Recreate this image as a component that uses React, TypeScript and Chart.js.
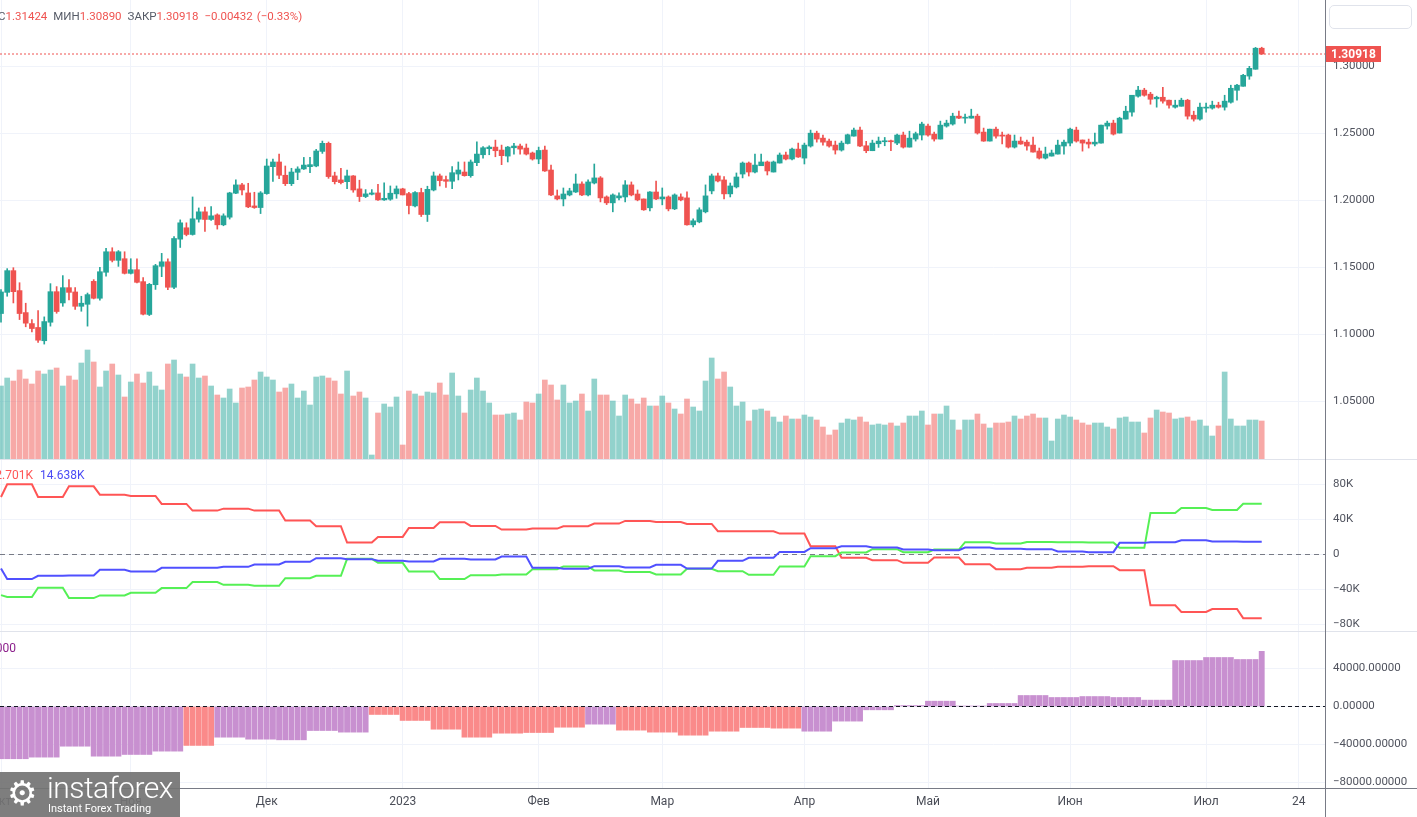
import React, { useEffect, useRef } from 'react';
import { Chart, registerables } from 'chart.js';

Chart.register(...registerables);

// ---------------- data ----------------
const firstSession = '2022-10-03';
const lastSession = '2023-07-14';

const opens = [
  1.1155, 1.1313, 1.1475, 1.1326, 1.1162, 1.1080, 1.1051, 1.0952, 1.1090, 1.1318,
  1.1234, 1.1348, 1.1316, 1.1209, 1.1224, 1.1395, 1.1269, 1.1463, 1.1616, 1.1552,
  1.1564, 1.1455, 1.1482, 1.1393, 1.1148, 1.1370, 1.1507, 1.1541, 1.1351, 1.1710,
  1.1795, 1.1745, 1.1859, 1.1914, 1.1857, 1.1891, 1.1817, 1.1874, 1.2053, 1.2115,
  1.2055, 1.1958, 1.1946, 1.2050, 1.2251, 1.2286, 1.2187, 1.2124, 1.2209, 1.2234,
  1.2251, 1.2256, 1.2365, 1.2425, 1.2182, 1.2152, 1.2139, 1.2182, 1.2085, 1.2028,
  1.2045, 1.2055, 1.2003, 1.2008, 1.2048, 1.2085, 1.2050, 1.1958, 1.2058, 1.1894,
  1.2077, 1.2182, 1.2154, 1.2142, 1.2196, 1.2211, 1.2184, 1.2281, 1.2340, 1.2385,
  1.2397, 1.2375, 1.2330, 1.2392, 1.2405, 1.2390, 1.2353, 1.2308, 1.2375, 1.2226,
  1.2033, 1.2010, 1.2040, 1.2062, 1.2122, 1.2040, 1.2129, 1.2167, 1.2025, 1.1981,
  1.2018, 1.2025, 1.2115, 1.2047, 1.2010, 1.1944, 1.2062, 1.2010, 1.2025, 1.1936,
  1.2025, 1.2018, 1.1817, 1.1839, 1.1914, 1.2070, 1.2182, 1.2152, 1.2048, 1.2100,
  1.2196, 1.2278, 1.2211, 1.2258, 1.2286, 1.2211, 1.2278, 1.2338, 1.2308, 1.2382,
  1.2315, 1.2405, 1.2501, 1.2464, 1.2442, 1.2412, 1.2375, 1.2424, 1.2479, 1.2524,
  1.2407, 1.2370, 1.2422, 1.2437, 1.2444, 1.2427, 1.2487, 1.2397, 1.2457, 1.2487,
  1.2554, 1.2494, 1.2457, 1.2554, 1.2569, 1.2628, 1.2613, 1.2613, 1.2628, 1.2509,
  1.2442, 1.2531, 1.2487, 1.2487, 1.2397, 1.2442, 1.2434, 1.2412, 1.2368, 1.2315,
  1.2330, 1.2345, 1.2405, 1.2427, 1.2524, 1.2450, 1.2434, 1.2420, 1.2427, 1.2554,
  1.2576, 1.2502, 1.2606, 1.2658, 1.2777, 1.2822, 1.2792, 1.2757, 1.2769, 1.2747,
  1.2695, 1.2702, 1.2747, 1.2635, 1.2606, 1.2688, 1.2688, 1.2710, 1.2695, 1.2732,
  1.2821, 1.2851, 1.2927, 1.2978, 1.3135,
];

const highs = [
  1.1333, 1.1490, 1.1497, 1.1385, 1.1232, 1.1110, 1.1177, 1.1130, 1.1378, 1.1356,
  1.1438, 1.1408, 1.1348, 1.1284, 1.1308, 1.1408, 1.1500, 1.1641, 1.1646, 1.1625,
  1.1616, 1.1564, 1.1564, 1.1423, 1.1380, 1.1522, 1.1604, 1.1564, 1.1730, 1.1854,
  1.1832, 1.2025, 1.1943, 1.1950, 1.1954, 1.1899, 1.1899, 1.2060, 1.2152, 1.2127,
  1.2127, 1.2060, 1.2065, 1.2308, 1.2308, 1.2345, 1.2256, 1.2239, 1.2250, 1.2320,
  1.2320, 1.2380, 1.2442, 1.2435, 1.2210, 1.2239, 1.2226, 1.2185, 1.2150, 1.2080,
  1.2080, 1.2120, 1.2130, 1.2107, 1.2107, 1.2090, 1.2060, 1.2065, 1.2090, 1.2105,
  1.2211, 1.2196, 1.2180, 1.2251, 1.2286, 1.2286, 1.2301, 1.2437, 1.2400, 1.2407,
  1.2449, 1.2412, 1.2402, 1.2425, 1.2420, 1.2420, 1.2360, 1.2397, 1.2405, 1.2263,
  1.2077, 1.2092, 1.2090, 1.2196, 1.2137, 1.2152, 1.2271, 1.2177, 1.2033, 1.2048,
  1.2055, 1.2147, 1.2137, 1.2077, 1.2010, 1.2065, 1.2144, 1.2092, 1.2033, 1.2048,
  1.2048, 1.2063, 1.1862, 1.1944, 1.2115, 1.2196, 1.2204, 1.2177, 1.2129, 1.2204,
  1.2286, 1.2286, 1.2345, 1.2345, 1.2293, 1.2293, 1.2353, 1.2360, 1.2390, 1.2427,
  1.2427, 1.2524, 1.2516, 1.2486, 1.2457, 1.2442, 1.2442, 1.2494, 1.2539, 1.2546,
  1.2440, 1.2449, 1.2472, 1.2469, 1.2450, 1.2494, 1.2509, 1.2516, 1.2509, 1.2583,
  1.2569, 1.2509, 1.2591, 1.2598, 1.2650, 1.2665, 1.2643, 1.2680, 1.2643, 1.2539,
  1.2531, 1.2546, 1.2509, 1.2494, 1.2487, 1.2472, 1.2449, 1.2472, 1.2390, 1.2397,
  1.2375, 1.2449, 1.2449, 1.2539, 1.2546, 1.2450, 1.2457, 1.2501, 1.2561, 1.2591,
  1.2598, 1.2620, 1.2702, 1.2784, 1.2851, 1.2836, 1.2806, 1.2777, 1.2844, 1.2747,
  1.2747, 1.2762, 1.2754, 1.2665, 1.2725, 1.2725, 1.2740, 1.2732, 1.2784, 1.2859,
  1.2866, 1.2940, 1.3000, 1.3141, 1.31424,
];

const lows = [
  1.1090, 1.1284, 1.1234, 1.1110, 1.1056, 1.1018, 1.0940, 1.0927, 1.1061, 1.1157,
  1.1209, 1.1256, 1.1185, 1.1172, 1.1061, 1.1264, 1.1254, 1.1433, 1.1540, 1.1507,
  1.1450, 1.1450, 1.1383, 1.1145, 1.1140, 1.1335, 1.1430, 1.1333, 1.1340, 1.1648,
  1.1735, 1.1740, 1.1837, 1.1767, 1.1850, 1.1785, 1.1810, 1.1860, 1.2050, 1.2040,
  1.1945, 1.1940, 1.1901, 1.2045, 1.2140, 1.2162, 1.2110, 1.2110, 1.2154, 1.2230,
  1.2206, 1.2250, 1.2350, 1.2164, 1.2122, 1.2122, 1.2087, 1.2060, 1.1991, 1.2020,
  1.2040, 1.2000, 1.2000, 1.2000, 1.2015, 1.2040, 1.1899, 1.1950, 1.1879, 1.1842,
  1.2070, 1.2107, 1.2097, 1.2087, 1.2152, 1.2180, 1.2172, 1.2258, 1.2315, 1.2340,
  1.2325, 1.2266, 1.2286, 1.2345, 1.2345, 1.2338, 1.2300, 1.2273, 1.2215, 1.2035,
  1.2003, 1.1958, 1.2033, 1.2058, 1.2035, 1.2033, 1.2122, 1.1988, 1.1968, 1.1914,
  1.2003, 1.1988, 1.2033, 1.1996, 1.1925, 1.1921, 1.2005, 1.1966, 1.1921, 1.1930,
  1.1996, 1.1815, 1.1802, 1.1832, 1.1906, 1.2048, 1.2137, 1.2010, 1.2025, 1.2092,
  1.2167, 1.2181, 1.2204, 1.2258, 1.2189, 1.2211, 1.2278, 1.2301, 1.2301, 1.2320,
  1.2271, 1.2397, 1.2434, 1.2412, 1.2397, 1.2345, 1.2367, 1.2420, 1.2479, 1.2400,
  1.2355, 1.2370, 1.2395, 1.2407, 1.2370, 1.2415, 1.2390, 1.2397, 1.2442, 1.2450,
  1.2479, 1.2442, 1.2457, 1.2546, 1.2561, 1.2610, 1.2576, 1.2613, 1.2494, 1.2440,
  1.2442, 1.2464, 1.2420, 1.2390, 1.2390, 1.2418, 1.2375, 1.2360, 1.2308, 1.2308,
  1.2330, 1.2345, 1.2345, 1.2405, 1.2434, 1.2367, 1.2390, 1.2405, 1.2427, 1.2531,
  1.2487, 1.2502, 1.2606, 1.2628, 1.2769, 1.2777, 1.2717, 1.2695, 1.2725, 1.2688,
  1.2688, 1.2702, 1.2606, 1.2591, 1.2598, 1.2658, 1.2680, 1.2688, 1.2673, 1.2725,
  1.2747, 1.2851, 1.2903, 1.2978, 1.30890,
];

const closes = [
  1.1316, 1.1475, 1.1318, 1.1155, 1.1083, 1.1043, 1.0956, 1.1095, 1.1318, 1.1170,
  1.1348, 1.1313, 1.1209, 1.1232, 1.1296, 1.1269, 1.1467, 1.1616, 1.1552, 1.1616,
  1.1455, 1.1482, 1.1388, 1.1150, 1.1373, 1.1512, 1.1541, 1.1351, 1.1715, 1.1832,
  1.1745, 1.1862, 1.1914, 1.1857, 1.1884, 1.1817, 1.1884, 1.2055, 1.2115, 1.2077,
  1.1951, 1.1946, 1.2055, 1.2256, 1.2286, 1.2187, 1.2124, 1.2211, 1.2234, 1.2263,
  1.2266, 1.2368, 1.2425, 1.2177, 1.2139, 1.2132, 1.2182, 1.2077, 1.2028, 1.2048,
  1.2055, 1.2003, 1.2015, 1.2053, 1.2085, 1.2040, 1.1961, 1.2058, 1.1894, 1.2082,
  1.2182, 1.2147, 1.2142, 1.2206, 1.2226, 1.2184, 1.2286, 1.2345, 1.2392, 1.2397,
  1.2370, 1.2333, 1.2397, 1.2405, 1.2382, 1.2345, 1.2308, 1.2372, 1.2219, 1.2040,
  1.2010, 1.2047, 1.2070, 1.2122, 1.2040, 1.2137, 1.2167, 1.2018, 1.1981, 1.2040,
  1.2033, 1.2115, 1.2040, 1.2003, 1.1929, 1.2062, 1.2010, 1.2025, 1.1936, 1.2040,
  1.2003, 1.1817, 1.1847, 1.1929, 1.2033, 1.2182, 1.2144, 1.2048, 1.2107, 1.2174,
  1.2278, 1.2211, 1.2263, 1.2286, 1.2219, 1.2286, 1.2338, 1.2308, 1.2382, 1.2323,
  1.2412, 1.2501, 1.2457, 1.2434, 1.2405, 1.2375, 1.2427, 1.2489, 1.2524, 1.2405,
  1.2370, 1.2427, 1.2442, 1.2444, 1.2437, 1.2487, 1.2397, 1.2464, 1.2497, 1.2569,
  1.2487, 1.2457, 1.2561, 1.2576, 1.2628, 1.2613, 1.2620, 1.2628, 1.2502, 1.2442,
  1.2531, 1.2479, 1.2479, 1.2397, 1.2442, 1.2420, 1.2405, 1.2360, 1.2315, 1.2345,
  1.2353, 1.2412, 1.2434, 1.2531, 1.2442, 1.2427, 1.2420, 1.2434, 1.2561, 1.2576,
  1.2494, 1.2613, 1.2665, 1.2784, 1.2822, 1.2784, 1.2754, 1.2769, 1.2740, 1.2710,
  1.2710, 1.2747, 1.2628, 1.2606, 1.2695, 1.2695, 1.2710, 1.2695, 1.2740, 1.2836,
  1.2859, 1.2933, 1.2985, 1.3135, 1.30918,
];

// tick volume, thousands
const volumesK = [
  73, 81, 78, 89, 80, 75, 88, 85, 89, 91,
  73, 83, 79, 96, 109, 97, 72, 88, 95, 84,
  62, 77, 85, 76, 87, 73, 69, 95, 99, 85,
  82, 95, 81, 83, 73, 64, 61, 70, 56, 71,
  72, 79, 87, 82, 79, 67, 71, 75, 61, 68,
  54, 82, 83, 81, 78, 65, 88, 63, 67, 61,
  4, 46, 55, 52, 62, 14, 68, 65, 63, 67,
  66, 76, 64, 86, 63, 46, 69, 81, 68, 56,
  44, 44, 45, 46, 39, 57, 56, 65, 79, 74,
  59, 74, 56, 58, 65, 48, 80, 64, 64, 58,
  43, 64, 60, 55, 61, 53, 53, 63, 56, 50,
  45, 60, 52, 48, 78, 101, 80, 87, 72, 53,
  57, 38, 49, 50, 48, 42, 37, 43, 40, 40,
  44, 42, 39, 32, 24, 29, 36, 40, 39, 42,
  37, 34, 35, 34, 36, 33, 36, 43, 43, 48,
  34, 45, 45, 53, 39, 29, 39, 39, 45, 35,
  31, 36, 36, 37, 43, 40, 43, 45, 41, 41,
  18, 40, 44, 42, 39, 36, 34, 36, 36, 32,
  30, 41, 42, 37, 37, 26, 41, 49, 47, 46,
  40, 41, 42, 38, 39, 33, 23, 33, 87, 40,
  33, 33, 39, 39, 38,
];

// weekly COT net positions (weeks run Tuesday..Monday, first week ends 2022-10-03)
const cotNonCommercial = [
  -46400, -48600, -38000, -49800, -46700, -43700, -38400, -31500, -34600, -35700,
  -27000, -24300, -4900, -9500, -19400, -28100, -23600, -22800, -16700, -13700,
  -18200, -20100, -22800, -16300, -19000, -23200, -13700, -1900, 2300, 6100,
  2700, 5700, 14100, 12500, 14400, 14100, 13700, 7600, 47500, 53200,
  50900, 58063,
];
const cotCommercial = [
  65700, 80200, 65700, 77900, 68400, 66900, 57800, 50200, 52400, 50200,
  38800, 32300, 13700, 20100, 30400, 36900, 32700, 28500, 29600, 32300,
  35300, 38400, 37200, 35000, 26600, 26600, 23900, 9500, -3800, -6500,
  -9500, -3400, -11000, -16700, -15200, -14100, -13300, -17900, -58100, -65700,
  -62300, -72701,
];
const cotNonReportable = [
  -16000, -28100, -24300, -23900, -17500, -19400, -15200, -15200, -14100, -11400,
  -8400, -4200, -5300, -7200, -8000, -4900, -5700, -2300, -15200, -16300,
  -13300, -14800, -11800, -16000, -7200, -3800, 3000, 7200, 9500, 8000,
  5700, 4900, 8000, 6500, 6100, 3400, 2700, 13300, 14100, 16300,
  14800, 14638,
];

// net-position histogram: Monday..Friday weeks from 2022-10-03, last entry = 2023-07-14 only
const netPosition = [
  -55000, -53300, -41800, -52300, -50500, -47000, -41000, -32300, -34400, -35100,
  -25300, -27000, -8400, -14700, -23900, -32300, -28100, -27400, -21800, -18600,
  -24900, -27000, -30200, -26000, -22100, -22800, -26000, -15400, -3500, 1000,
  5600, 500, 3200, 11600, 9500, 10500, 9500, 6700, 48400, 51600,
  49500, 58063,
];
const netTone = [
  'p', 'p', 'p', 'p', 'p', 'p', 's', 'p', 'p', 'p',
  'p', 'p', 's', 's', 's', 's', 's', 's', 's', 'p',
  's', 's', 's', 's', 's', 's', 'p', 'p', 'p', 'p',
  'p', 'p', 'p', 'p', 'p', 'p', 'p', 'p', 'p', 'p',
  'p', 'p',
];

const timeTicks = [
  { date: '2022-10-03', label: 'Окт' },
  { date: '2022-11-01', label: 'Ноя' },
  { date: '2022-12-01', label: 'Дек' },
  { date: '2023-01-02', label: '2023' },
  { date: '2023-02-01', label: 'Фев' },
  { date: '2023-03-01', label: 'Мар' },
  { date: '2023-04-03', label: 'Апр' },
  { date: '2023-05-01', label: 'Май' },
  { date: '2023-06-01', label: 'Июн' },
  { date: '2023-07-03', label: 'Июл' },
  { date: '2023-07-24', label: '24' },
];
const priceTicks = [1.05, 1.1, 1.15, 1.2, 1.25, 1.3];
const cotTicks = [80000, 40000, 0, -40000, -80000];
const netTicks = [40000, 0, -40000, -80000];

const sessionSummary = { high: 1.31424, low: 1.3089, close: 1.30918, change: -0.00432, changePct: -0.33 };

// ---------------- layout / style ----------------
const FONT = 'Roboto, "Noto Sans", "DejaVu Sans", sans-serif';
const W = 1417;
const AXIS_W = 92;
const PLOT_W = W - AXIS_W;
const SLOT_PX = 6.18;
const X_MIN = -1 / SLOT_PX;
const X_MAX = X_MIN + PLOT_W / SLOT_PX;
const GRID = '#f0f3fa';
const TICK = '#50535e';
const UP = '#26a69a';
const DOWN = '#ef5350';

Chart.defaults.font.family = FONT;

function sessionIndex(iso: string): number {
  const start = Date.parse(firstSession + 'T00:00:00Z');
  const end = Date.parse(iso + 'T00:00:00Z');
  let n = 0;
  for (let t = start; t < end; t += 86400000) {
    const wd = new Date(t).getUTCDay();
    if (wd !== 0 && wd !== 6) n++;
  }
  return n;
}

const lastIdx = sessionIndex(lastSession);
const tickIdx = timeTicks.map((t) => ({ idx: sessionIndex(t.date), label: t.label }));
const labelAt = new Map(tickIdx.map((t) => [t.idx, t.label]));
const cotWeekOf = (d: number) => Math.floor((d + 4) / 5);
const netPeriodOf = (d: number) =>
  d === lastIdx ? netPosition.length - 1 : Math.min(Math.floor(d / 5), netPosition.length - 2);

const minus = (v: number) => (v < 0 ? '\u2212' : '');

function xAxis(showLabels: boolean) {
  return {
    type: 'linear',
    min: X_MIN,
    max: X_MAX,
    bounds: 'data',
    offset: false,
    afterBuildTicks: (s: any) => {
      s.ticks = tickIdx.map((t) => ({ value: t.idx }));
    },
    afterFit: (s: any) => {
      s.height = showLabels ? 29 : 0;
      s.paddingLeft = 0;
      s.paddingRight = 0;
    },
    grid: { color: GRID, drawTicks: false, offset: false },
    border: { display: false },
    ticks: {
      display: showLabels,
      autoSkip: false,
      maxRotation: 0,
      color: '#4a4d57',
      font: { size: 12 },
      padding: 7,
      callback: (v: number) => labelAt.get(v) ?? '',
    },
  };
}

function yAxis(min: number, max: number, ticks: number[], fmt: (v: number) => string) {
  return {
    type: 'linear',
    position: 'right',
    min,
    max,
    bounds: 'data',
    afterBuildTicks: (s: any) => {
      s.ticks = ticks.map((v) => ({ value: v }));
    },
    afterFit: (s: any) => {
      s.width = AXIS_W;
      s.paddingTop = 0;
      s.paddingBottom = 0;
    },
    grid: { color: GRID, drawTicks: false },
    border: { display: false },
    ticks: { color: TICK, font: { size: 11.5 }, padding: 8, autoSkip: false, callback: (v: number) => fmt(v) },
  };
}

const baseOptions = {
  animation: false,
  responsive: false,
  events: [],
  layout: { padding: 0 },
  plugins: { legend: { display: false }, tooltip: { enabled: false } },
};

const lastClose = closes[closes.length - 1];

const priceTag = {
  id: 'priceTag',
  afterDraw(chart: any) {
    const y = chart.scales.y.getPixelForValue(lastClose);
    const x = chart.chartArea.right;
    const ctx = chart.ctx;
    ctx.save();
    ctx.fillStyle = DOWN;
    ctx.fillRect(x, Math.round(y) - 8, 56, 16);
    ctx.fillStyle = '#ffffff';
    ctx.font = `bold 12px ${FONT}`;
    ctx.textBaseline = 'middle';
    ctx.textAlign = 'left';
    ctx.fillText(lastClose.toFixed(5), x + 6, Math.round(y) + 0.5);
    ctx.restore();
  },
};

function priceConfig(): any {
  const idx = opens.map((_, i) => i);
  const isUp = idx.map((i) => closes[i] >= opens[i]);
  return {
    type: 'bar',
    data: {
      datasets: [
        {
          type: 'bar',
          data: idx.map((i) => ({ x: i, y: [opens[i], closes[i]] })),
          backgroundColor: isUp.map((u) => (u ? UP : DOWN)),
          barThickness: 5,
          minBarLength: 1,
          grouped: false,
          borderWidth: 0,
          yAxisID: 'y',
          order: 0,
        },
        {
          type: 'bar',
          data: idx.map((i) => ({ x: i, y: [lows[i], highs[i]] })),
          backgroundColor: isUp.map((u) => (u ? UP : DOWN)),
          barThickness: 1,
          grouped: false,
          borderWidth: 0,
          yAxisID: 'y',
          order: 1,
        },
        {
          type: 'line',
          data: [
            { x: X_MIN, y: lastClose },
            { x: X_MAX, y: lastClose },
          ],
          borderColor: DOWN,
          borderWidth: 1,
          borderDash: [2, 2],
          pointRadius: 0,
          yAxisID: 'y',
          order: 2,
        },
        {
          type: 'bar',
          data: idx.map((i) => ({ x: i, y: volumesK[i] })),
          backgroundColor: isUp.map((u) => (u ? 'rgba(38,166,154,0.5)' : 'rgba(239,83,80,0.5)')),
          barThickness: 5,
          grouped: false,
          borderWidth: 0,
          yAxisID: 'vol',
          order: 3,
        },
      ],
    },
    options: {
      ...baseOptions,
      scales: {
        x: xAxis(false),
        y: yAxis(1.00694, 1.34948, priceTicks, (v) => v.toFixed(5)),
        vol: { type: 'linear', display: false, min: 0, max: 459 },
      },
    },
    plugins: [priceTag],
  };
}

function cotConfig(): any {
  const idx = opens.map((_, i) => i);
  const line = (arr: number[], color: string, order: number) => ({
    type: 'line',
    data: idx.map((d) => ({ x: d, y: arr[cotWeekOf(d)] })),
    borderColor: color,
    borderWidth: 2,
    pointRadius: 0,
    tension: 0,
    fill: false,
    order,
  });
  return {
    type: 'line',
    data: {
      datasets: [
        line(cotNonReportable, '#5050ff', 0),
        line(cotNonCommercial, '#55f055', 1),
        line(cotCommercial, '#ff5555', 2),
        {
          type: 'line',
          data: [
            { x: X_MIN, y: 0 },
            { x: X_MAX, y: 0 },
          ],
          borderColor: '#787b86',
          borderWidth: 1,
          borderDash: [5, 4],
          pointRadius: 0,
          order: 3,
        },
      ],
    },
    options: {
      ...baseOptions,
      scales: {
        x: xAxis(false),
        y: yAxis(-87400, 108000, cotTicks, (v) => (v === 0 ? '0' : minus(v) + Math.abs(v) / 1000 + 'K')),
      },
    },
  };
}

function netConfig(): any {
  const idx = opens.map((_, i) => i);
  return {
    type: 'bar',
    data: {
      datasets: [
        {
          type: 'line',
          data: [
            { x: X_MIN, y: 0 },
            { x: X_MAX, y: 0 },
          ],
          borderColor: '#131722',
          borderWidth: 1.2,
          borderDash: [4, 3],
          pointRadius: 0,
          order: 0,
        },
        {
          type: 'bar',
          data: idx.map((d) => ({ x: d, y: netPosition[netPeriodOf(d)] })),
          backgroundColor: idx.map((d) => (netTone[netPeriodOf(d)] === 's' ? '#fa8a8a' : '#c890d0')),
          barThickness: 5.2,
          grouped: false,
          borderWidth: 0,
          order: 1,
        },
      ],
    },
    options: {
      ...baseOptions,
      scales: {
        x: xAxis(true),
        y: yAxis(-85789, 78421, netTicks, (v) => minus(v) + Math.abs(v).toFixed(5)),
      },
    },
  };
}

function Clipped({ left, top, width, color, text }: { left: number; top: number; width: number; color: string; text: string }) {
  return (
    <div style={{ position: 'absolute', left, top, width, height: 16, overflow: 'hidden' }}>
      <span style={{ position: 'absolute', right: 0, top: 0, whiteSpace: 'nowrap', color, fontSize: 12, lineHeight: '16px' }}>{text}</span>
    </div>
  );
}

export default function App() {
  const priceRef = useRef<HTMLCanvasElement>(null);
  const cotRef = useRef<HTMLCanvasElement>(null);
  const netRef = useRef<HTMLCanvasElement>(null);

  useEffect(() => {
    document.body.style.margin = '0';
    const charts = [
      new Chart(priceRef.current!, priceConfig()),
      new Chart(cotRef.current!, cotConfig()),
      new Chart(netRef.current!, netConfig()),
    ];
    return () => charts.forEach((c) => c.destroy());
  }, []);

  const s = sessionSummary;
  const gray = { color: '#555a66' };
  const red = { color: DOWN };
  const lastNC = cotNonCommercial[cotNonCommercial.length - 1];
  const lastC = cotCommercial[cotCommercial.length - 1];
  const lastNR = cotNonReportable[cotNonReportable.length - 1];
  const fmtK = (v: number) => minus(v) + (Math.abs(v) / 1000).toFixed(3) + 'K';

  return (
    <div style={{ position: 'absolute', left: 0, top: 0, width: W, height: 817, overflow: 'hidden', background: '#ffffff', fontFamily: FONT }}>
      <canvas ref={priceRef} width={W} height={459} style={{ position: 'absolute', left: 0, top: 0 }} />
      <canvas ref={cotRef} width={W} height={171} style={{ position: 'absolute', left: 0, top: 460 }} />
      <canvas ref={netRef} width={W} height={185} style={{ position: 'absolute', left: 0, top: 632 }} />

      {/* panel separators and axis lines */}
      <div style={{ position: 'absolute', left: 0, top: 459, width: W, height: 1, background: '#e0e3eb' }} />
      <div style={{ position: 'absolute', left: 0, top: 631, width: W, height: 1, background: '#e0e3eb' }} />
      <div style={{ position: 'absolute', left: 0, top: 788, width: W, height: 1, background: '#787b86' }} />
      <div style={{ position: 'absolute', left: PLOT_W, top: 0, width: 1, height: 817, background: '#787b86' }} />

      {/* header */}
      <div style={{ position: 'absolute', left: -2, top: 8, fontSize: 11.5, lineHeight: '16px', whiteSpace: 'nowrap' }}>
        <span style={gray}>С</span>
        <span style={red}>{s.high.toFixed(5)}</span>
        <span style={{ ...gray, marginLeft: 6 }}>МИН</span>
        <span style={red}>{s.low.toFixed(5)}</span>
        <span style={{ ...gray, marginLeft: 6 }}>ЗАКР</span>
        <span style={red}>{s.close.toFixed(5)}</span>
        <span style={{ ...red, marginLeft: 6 }}>{minus(s.change) + Math.abs(s.change).toFixed(5)}</span>
        <span style={{ ...red, marginLeft: 4 }}>({minus(s.changePct) + Math.abs(s.changePct).toFixed(2)}%)</span>
      </div>

      {/* top-right empty control */}
      <div style={{ position: 'absolute', left: 1329, top: 5, width: 83, height: 24, border: '1px solid #e0e3eb', borderRadius: 5, boxSizing: 'border-box' }} />

      {/* COT legend */}
      <Clipped left={0} top={467} width={33} color="#ff5555" text={fmtK(lastNC) + '  ' + fmtK(lastC)} />
      <div style={{ position: 'absolute', left: 40, top: 467, color: '#4b4bf5', fontSize: 12, lineHeight: '16px' }}>{fmtK(lastNR)}</div>

      {/* net legend */}
      <Clipped left={0} top={640} width={16} color="#8b1e8b" text={netPosition[netPosition.length - 1].toFixed(5)} />

      {/* logo */}
      <div style={{ position: 'absolute', left: 0, top: 772, width: 180, height: 45, background: 'rgba(115,115,115,0.92)', color: '#ffffff', overflow: 'hidden' }}>
        <span style={{ position: 'absolute', left: 7, top: 1, fontSize: 34, lineHeight: '40px', fontFamily: '"DejaVu Sans", sans-serif' }}>⚙</span>
        <span style={{ position: 'absolute', left: 47, top: 0, fontSize: 30, fontWeight: 300, lineHeight: '32px', letterSpacing: -0.5 }}>instaforex</span>
        <span style={{ position: 'absolute', left: 48, top: 30, fontSize: 11, lineHeight: '13px' }}>Instant Forex Trading</span>
      </div>
    </div>
  );
}
